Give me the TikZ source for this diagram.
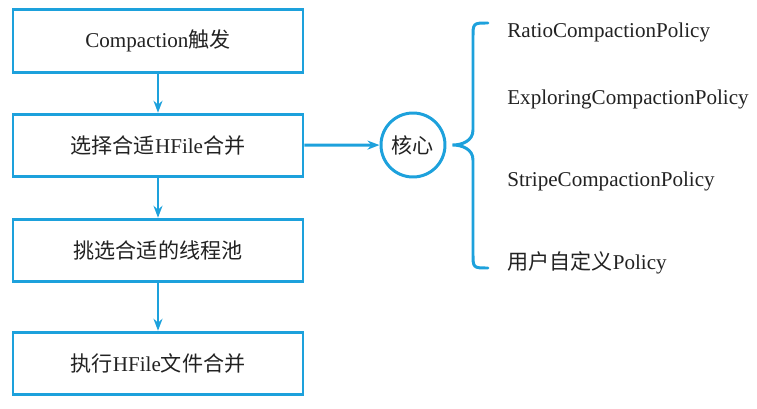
\documentclass[tikz,border=0pt]{standalone}
\usepackage{fontspec}
\setmainfont{Liberation Serif}
\newfontfamily\cjk{Noto Sans CJK SC}
\usepackage{xcolor}
\usetikzlibrary{arrows.meta}
\definecolor{flowblue}{HTML}{1DA1DC}
\definecolor{flowtext}{HTML}{222222}

\begin{document}
\begin{tikzpicture}[
    stepbox/.style={draw=flowblue, line width=1.7pt, minimum width=5.8cm,
      minimum height=1.25cm, inner sep=0pt, font=\fontsize{12}{14}\selectfont, text=flowtext},
    core/.style={circle, draw=flowblue, line width=1.7pt, minimum size=1.28cm,
      inner sep=0pt, font=\fontsize{12}{14}\selectfont, text=flowtext},
    flow/.style={draw=flowblue, line width=1.7pt, -{Stealth[length=2.4mm, width=1.8mm]}},
    brace/.style={draw=flowblue, line width=1.7pt, line cap=round},
    policy/.style={anchor=west, inner sep=0pt, font=\fontsize{12}{14}\selectfont, text=flowtext},
  ]
  \useasboundingbox (0,0) rectangle (15.14,8.16);

  % ---- the four steps
  \node[stepbox] (trigger) at (3.16,7.34) {Compaction{\cjk 触发}};
  \node[stepbox] (select)  at (3.16,5.25) {{\cjk 选择合适}HFile{\cjk 合并}};
  \node[stepbox] (pool)    at (3.16,3.15) {{\cjk 挑选合适的线程池}};
  \node[stepbox] (merge)   at (3.16,0.89) {{\cjk 执行}HFile{\cjk 文件合并}};

  \draw[flow] (trigger) -- (select);
  \draw[flow] (select) -- (pool);
  \draw[flow] (pool) -- (merge);

  % ---- core and the policies
  \node[core] (core) at (8.26,5.26) {{\cjk 核心}};
  \draw[flow] (select) -- (core);

  \coordinate (btop) at (9.76,7.70);
  \coordinate (bbot) at (9.76,2.80);
  \coordinate (btip) at ([xshift=0.12cm]core.east);
  \draw[brace] (btop) .. controls (9.46,7.70) .. (9.46,7.40) -- (9.46,5.56)
    .. controls (9.46,5.34) and (9.24,5.26) .. (btip)
    .. controls (9.24,5.26) and (9.46,5.18) .. (9.46,4.96) -- (9.46,3.10)
    .. controls (9.46,2.80) .. (bbot);

  \node[policy] (ratio)   at (10.14,7.52) {RatioCompactionPolicy};
  \node[policy] (explore) at (10.14,6.18) {ExploringCompactionPolicy};
  \node[policy] (stripe)  at (10.14,4.54) {StripeCompactionPolicy};
  \node[policy] (custom)  at (10.14,2.90) {{\cjk 用户自定义}Policy};
\end{tikzpicture}
\end{document}
